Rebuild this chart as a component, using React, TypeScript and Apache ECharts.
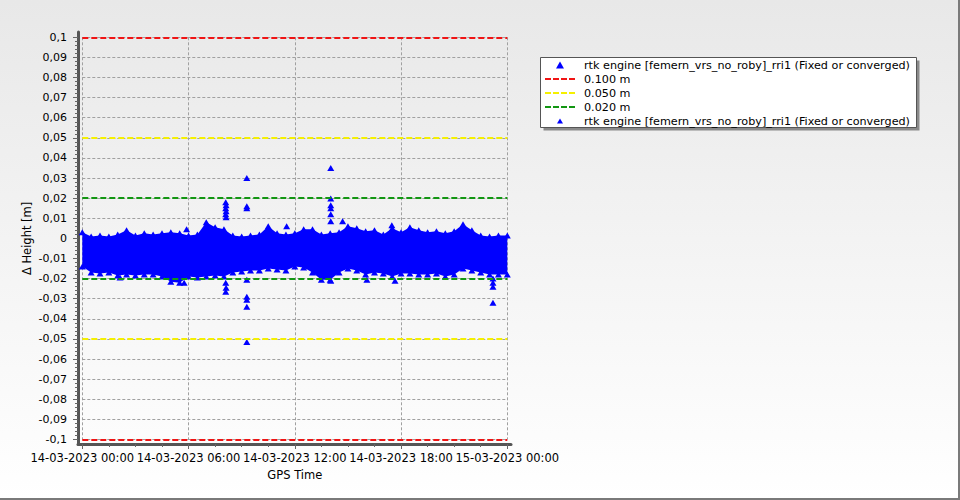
import { useEffect, useRef } from 'react';
import * as echarts from 'echarts';

// ---------- data ----------
const RTK_LABEL = 'rtk engine [femern_vrs_no_roby]_rri1 (Fixed or converged)';
const X_TICK_HOURS = [0, 6, 12, 18, 24];
const X_TICK_LABELS = ['14-03-2023 00:00', '14-03-2023 06:00', '14-03-2023 12:00', '14-03-2023 18:00', '15-03-2023 00:00'];
const THRESHOLD_NAMES = ['0.100 m', '0.050 m', '0.020 m'];
const THRESHOLD_VALUES = [0.1, 0.05, 0.02];
const THRESHOLD_COLORS = ['#f01414', '#f5f000', '#129612'];

// envelope of the dense height-difference cloud (hours since 14-03-2023 00:00, mm)
const T_HOURS = [0, 0.5, 1, 1.5, 2, 2.5, 3, 3.5, 4, 4.5, 5, 5.5, 6, 6.5, 7, 7.5, 8, 8.5, 9, 9.5, 10, 10.5, 11, 11.5,
  12, 12.5, 13, 13.5, 14, 14.5, 15, 15.5, 16, 16.5, 17, 17.5, 18, 18.5, 19, 19.5, 20, 20.5, 21, 21.5, 22, 22.5, 23, 23.5, 24];
const UPPER_MM = [3.0, 1.0, 1.5, 1.0, 2.0, 4.0, 1.5, 2.5, 2.0, 2.5, 3.0, 2.5,
  1.5, 2.0, 8.0, 5.5, 4.5, 1.5, 1.0, 1.5, 2.0, 6.0, 2.5, 2.0,
  2.5, 4.5, 4.5, 2.0, 2.5, 3.0, 6.0, 5.0, 3.5, 4.0, 2.0, 5.0,
  3.0, 5.5, 4.0, 3.0, 3.5, 2.5, 3.5, 7.0, 4.0, 1.5, 1.0, 1.5, 1.5];
const LOWER_MM = [-14, -17, -17.5, -17, -18.5, -18, -18.5, -18, -18, -19, -21.5, -22,
  -19, -19.5, -19, -18.5, -19, -17, -16.5, -16, -16, -15, -15.5, -16,
  -14, -14.5, -17, -20.5, -20.5, -17, -15, -16, -18, -17, -17.5, -19,
  -17.5, -17.5, -18, -18, -17.5, -19, -18, -15, -16, -17, -18, -18, -18];

// isolated points and spikes outside the envelope
const OUT_HOURS = [2.13, 5.75, 5.89, 8.1, 8.12, 8.1, 8.12, 8.1, 8.12, 8.1, 8.12, 8.1,
  9.29, 9.29, 9.29, 9.29, 9.29, 9.29, 9.29, 9.29, 11.54,
  14.03, 14.03, 14.03, 14.03, 14.03, 14.03, 14.03, 14.7, 16.07, 17.48, 17.66,
  23.19, 23.19, 23.19, 23.19];
const OUT_MM = [-19.5, -22, 4.5, 18, 16.5, 15, 13.5, 12, 10.5, -22, -24.5, -26.5,
  30, 16, 15, -20.5, -29, -30.5, -34, -51.5, 6,
  35, 19.8, 16.5, 15, 12, 8.5, -21, 8.5, -20.5, 6.5, -21,
  -20, -22, -24, -32];

const DASH_ICON = 'path://M0,0h6v2h-6z M8,0h6v2h-6z M16,0h6v2h-6z M24,0h6v2h-6z';
const BLUE = '#0000ff';

export default function App() {
  const ref = useRef<HTMLDivElement>(null);

  useEffect(() => {
    if (!ref.current) return;
    const chart = echarts.init(ref.current, undefined, { renderer: 'svg' });

    const envData = [
      ...T_HOURS.map((t, i) => [t, UPPER_MM[i] / 1000]),
      ...T_HOURS.map((t, i) => [t, LOWER_MM[i] / 1000]),
    ];
    const outData = OUT_HOURS.map((t, i) => [t, OUT_MM[i] / 1000]);
    const legendFormatter = (n: string) => (n.startsWith('rtk') ? RTK_LABEL : n);
    const tickColor = '#666';

    const thresholdSeries = THRESHOLD_NAMES.map((name, k) => ({
      type: 'line',
      name,
      xAxisIndex: 0,
      yAxisIndex: 0,
      data: [],
      color: THRESHOLD_COLORS[k],
      itemStyle: { color: THRESHOLD_COLORS[k] },
      lineStyle: { color: THRESHOLD_COLORS[k], width: 2, type: [6, 3] },
      symbol: 'none',
      z: 5,
      markLine: {
        silent: true,
        symbol: ['none', 'none'],
        label: { show: false },
        emphasis: { disabled: true },
        lineStyle: { color: THRESHOLD_COLORS[k], width: 2, type: [6, 3] },
        data: [{ yAxis: THRESHOLD_VALUES[k] }, { yAxis: -THRESHOLD_VALUES[k] }],
      },
    }));

    const legendCommon = {
      orient: 'vertical', padding: 0, itemGap: 0,
      selectedMode: false,
      itemStyle: { borderWidth: 0 },
      formatter: legendFormatter,
    };
    const legendText = (padLeft: number) => ({
      fontSize: 11.2, color: '#000', lineHeight: 14, padding: [0, 0, 0, padLeft],
    });

    chart.setOption({
      animation: false,
      backgroundColor: 'transparent',
      textStyle: { fontFamily: 'DejaVu Sans' },
      grid: [
        { left: 82.3, top: 37.3, right: 452.7, bottom: 60.5 },
        { left: 78, top: 32, right: 449, bottom: 56 },
      ],
      xAxis: [
        {
          type: 'value', gridIndex: 0, min: 0, max: 24, interval: 6, offset: 4.5,
          axisLine: { show: false, onZero: false },
          axisTick: { show: true, length: 5, lineStyle: { color: tickColor } },
          minorTick: { show: true, splitNumber: 4, length: 3, lineStyle: { color: tickColor } },
          axisLabel: {
            margin: 8, fontSize: 11.5, color: '#000',
            formatter: (v: number) => {
              const idx = X_TICK_HOURS.indexOf(Math.round(v));
              return idx >= 0 ? X_TICK_LABELS[idx] : '';
            },
          },
          splitLine: { show: true, lineStyle: { color: '#a0a0a0', type: [3, 2], width: 1 } },
          name: 'GPS Time', nameLocation: 'middle', nameGap: 21,
          nameTextStyle: { fontSize: 11.5, color: '#000' },
        },
        {
          type: 'value', gridIndex: 1, min: 0, max: 1,
          axisLine: { show: true, onZero: false, lineStyle: { color: '#555', width: 3 } },
          axisTick: { show: false }, axisLabel: { show: false }, splitLine: { show: false },
        },
      ],
      yAxis: [
        {
          type: 'value', gridIndex: 0, min: -0.1, max: 0.1, interval: 0.01, offset: 4.3,
          axisLine: { show: false, onZero: false },
          axisTick: { show: true, length: 5, lineStyle: { color: tickColor } },
          minorTick: { show: true, splitNumber: 5, length: 3, lineStyle: { color: tickColor } },
          axisLabel: {
            margin: 11, fontSize: 11, color: '#000',
            formatter: (v: number) => String(Math.round(v * 100) / 100).replace('.', ','),
          },
          splitLine: { show: true, lineStyle: { color: '#a0a0a0', type: [3, 2], width: 1 } },
          name: 'Δ Height [m]', nameLocation: 'middle', nameGap: 45,
          nameTextStyle: { fontSize: 11.5, color: '#000' },
        },
        {
          type: 'value', gridIndex: 1, min: 0, max: 1,
          axisLine: { show: true, onZero: false, lineStyle: { color: '#555', width: 3 } },
          axisTick: { show: false }, axisLabel: { show: false }, splitLine: { show: false },
        },
      ],
      legend: [
        {
          ...legendCommon, left: 556, top: 58, itemWidth: 8, itemHeight: 7,
          textStyle: legendText(15),
          data: [{ name: 'rtk-main', icon: 'triangle' }],
        },
        {
          ...legendCommon, left: 545, top: 72, itemWidth: 30, itemHeight: 8,
          textStyle: legendText(4),
          data: THRESHOLD_NAMES.map((n) => ({ name: n, icon: DASH_ICON })),
        },
        {
          ...legendCommon, left: 557, top: 114, itemWidth: 6, itemHeight: 5,
          textStyle: legendText(16),
          data: [{ name: 'rtk-out', icon: 'triangle' }],
        },
      ],
      graphic: [
        { type: 'rect', z: 0, shape: { x: 543.5, y: 60.5, width: 376, height: 70 }, style: { fill: '#8a8a8a' } },
        { type: 'rect', z: 1, shape: { x: 540.5, y: 57.5, width: 376, height: 70 }, style: { fill: '#ffffff', stroke: '#555', lineWidth: 1 } },
        { type: 'line', z: 1, shape: { x1: 959, y1: 0, x2: 959, y2: 500 }, style: { stroke: '#7a7a7a', lineWidth: 2 } },
        { type: 'line', z: 1, shape: { x1: 0, y1: 499, x2: 960, y2: 499 }, style: { stroke: '#7a7a7a', lineWidth: 2 } },
      ],
      series: [
        {
          type: 'scatter', name: 'rtk-main', xAxisIndex: 0, yAxisIndex: 0, clip: false,
          symbol: 'triangle', symbolSize: [7, 6],
          itemStyle: { color: BLUE, opacity: 1 }, data: envData, z: 3,
        },
        {
          type: 'custom', name: 'rtk-main', xAxisIndex: 0, yAxisIndex: 0, z: 3,
          itemStyle: { color: BLUE },
          data: [[0, 0]],
          renderItem: (_params: any, api: any) => {
            const pts: number[][] = [];
            for (let i = 0; i < T_HOURS.length; i++) pts.push(api.coord([T_HOURS[i], UPPER_MM[i] / 1000]));
            for (let i = T_HOURS.length - 1; i >= 0; i--) pts.push(api.coord([T_HOURS[i], LOWER_MM[i] / 1000]));
            return { type: 'polygon', shape: { points: pts }, style: { fill: BLUE } };
          },
        },
        {
          type: 'scatter', name: 'rtk-out', xAxisIndex: 0, yAxisIndex: 0, clip: false,
          symbol: 'triangle', symbolSize: [7, 6],
          itemStyle: { color: BLUE, opacity: 1 }, data: outData, z: 3,
        },
        ...thresholdSeries,
      ],
    });

    return () => chart.dispose();
  }, []);

  return (
    <div
      style={{
        position: 'absolute', left: 0, top: 0, width: 960, height: 500,
        background: 'linear-gradient(#e8e8e8, #ffffff)',
      }}
    >
      <div ref={ref} style={{ width: 960, height: 500 }} />
    </div>
  );
}
